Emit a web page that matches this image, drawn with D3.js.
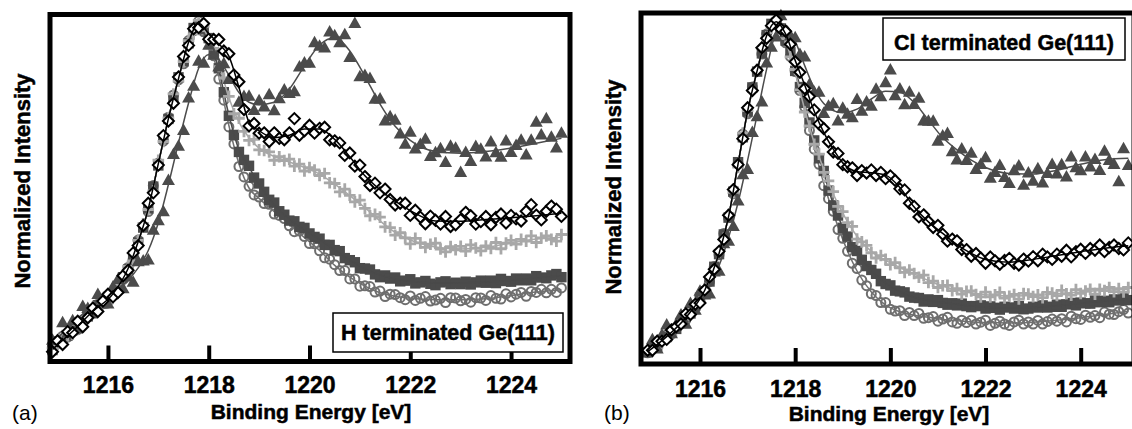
<!DOCTYPE html>
<html><head><meta charset="utf-8">
<script src="https://cdn.jsdelivr.net/npm/d3@7"></script>
<style>body{margin:0;background:#fff}svg{display:block}</style>
</head><body>
<svg id="c" width="1132" height="429"></svg>
<script>
// ---------- DATA (intensities in per-mille of normalized intensity) ----------
const energy = [
1214.9,1215.0,1215.1,1215.2,1215.3,1215.4,1215.5,1215.6,1215.7,1215.8,
1215.9,1216.0,1216.1,1216.2,1216.3,1216.4,1216.5,1216.6,1216.7,1216.8,
1216.9,1217.0,1217.1,1217.2,1217.3,1217.4,1217.5,1217.6,1217.7,1217.8,
1217.9,1218.0,1218.1,1218.2,1218.3,1218.4,1218.5,1218.6,1218.7,1218.8,
1218.9,1219.0,1219.1,1219.2,1219.3,1219.4,1219.5,1219.6,1219.7,1219.8,
1219.9,1220.0,1220.1,1220.2,1220.3,1220.4,1220.5,1220.6,1220.7,1220.8,
1220.9,1221.0,1221.1,1221.2,1221.3,1221.4,1221.5,1221.6,1221.7,1221.8,
1221.9,1222.0,1222.1,1222.2,1222.3,1222.4,1222.5,1222.6,1222.7,1222.8,
1222.9,1223.0,1223.1,1223.2,1223.3,1223.4,1223.5,1223.6,1223.7,1223.8,
1223.9,1224.0,1224.1,1224.2,1224.3,1224.4,1224.5,1224.6,1224.7,1224.8,
1224.9,1225.0];

const fitEnergy = [1214.9,1215.3,1215.7,1216.1,1216.4,1216.6,1216.8,1217.0,1217.2,1217.4,
1217.6,1217.8,1218.0,1218.2,1218.4,1218.6,1218.8,1219.0,1219.3,1219.6,
1219.9,1220.2,1220.5,1220.8,1221.1,1221.4,1221.7,1222.0,1222.5,1223.0,
1223.5,1224.0,1224.5,1225.0];

const tickLabels = [1216,1218,1220,1222,1224];

// Panel (a): H terminated
const aTriangles = [62,61,112,82,118,98,159,153,145,194,
174,166,215,237,210,244,229,288,290,293,
379,406,432,522,597,621,666,760,794,866,
860,912,883,849,859,813,824,748,764,765,
724,752,734,769,723,758,783,773,778,849,
861,860,919,909,904,950,939,919,942,877,
975,821,825,816,756,757,694,706,696,656,
627,661,613,626,641,591,602,614,574,621,
615,545,603,577,620,612,590,633,602,589,
636,603,623,638,596,638,690,653,700,647,
616,658];
const aDiamonds = [28,60,49,86,83,116,100,126,154,144,
174,194,186,199,247,263,313,334,392,456,
486,566,651,693,744,820,879,911,959,962,
974,929,928,928,895,887,826,806,726,679,
686,658,659,634,659,643,639,659,700,652,
665,681,658,672,675,639,636,630,594,601,
563,566,533,507,514,486,497,467,451,456,
456,421,436,416,397,419,407,396,418,389,
394,409,430,420,396,403,418,394,415,425,
399,421,411,405,433,452,422,408,433,448,
439,418];
const aPlus = [39,49,75,74,79,107,115,124,156,151,
175,169,196,223,235,274,290,349,397,438,
492,580,634,702,771,808,864,925,944,983,
966,926,901,850,817,764,714,701,663,637,
640,610,608,604,580,590,579,583,563,569,
549,559,552,536,542,515,513,489,497,479,
460,465,441,420,424,416,388,386,364,371,
356,339,355,342,329,338,341,324,316,331,
322,332,318,336,327,319,333,326,343,325,
341,349,338,352,347,362,343,356,362,352,
347,366];
const aSquares = [33,58,60,75,91,96,112,130,139,162,
167,186,194,211,243,265,305,343,386,441,
504,565,643,699,754,819,865,917,961,971,
957,932,890,845,776,708,653,604,581,564,
530,513,489,466,458,433,423,406,404,388,
385,369,359,354,336,336,321,318,298,292,
286,269,268,265,251,243,248,239,242,231,
233,237,225,228,232,224,220,228,231,223,
227,223,230,222,228,233,227,233,226,238,
232,230,239,234,239,234,246,242,240,248,
252,243];
const aCircles = [39,52,73,70,89,92,119,129,140,165,
168,173,200,223,236,271,294,350,389,432,
507,572,635,704,768,812,858,925,953,981,
950,928,881,814,753,676,627,562,532,505,
480,474,455,453,425,421,412,391,374,376,
360,340,339,319,299,295,279,262,262,238,
238,217,218,216,200,203,187,194,193,184,
178,189,176,182,187,174,177,182,170,184,
183,175,179,171,184,183,176,190,182,180,
195,186,194,199,188,202,199,208,198,208,
199,212];

const aFitTriangles = [50,112,160,200,235,270,320,400,510,630,745,845,885,870,825,775,747,740,747,785,852,912,933,895,822,742,678,637,605,600,605,615,629,643];
const aFitDiamonds = [35,87,145,195,268,345,440,570,700,815,920,975,945,915,880,790,690,665,645,652,670,670,640,590,535,495,462,435,405,404,409,414,420,427];
const aFitPlus = [35,87,145,195,268,345,440,570,700,815,920,975,930,860,760,690,645,615,591,575,559,540,511,478,443,405,372,350,330,324,329,342,353,358];
const aFitSquares = [35,87,145,195,268,345,440,570,700,815,920,975,930,840,710,610,560,510,452,410,380,352,322,292,267,249,238,231,226,227,229,234,241,247];
const aFitCircles = [35,87,145,195,268,345,440,570,700,815,920,975,920,820,680,570,500,470,432,395,357,320,277,243,217,198,188,182,178,178,181,190,200,207];

// Panel (b): Cl terminated
const bTriangles = [35,70,43,83,112,87,113,140,114,173,
154,208,197,200,263,265,343,350,392,465,
540,555,660,705,747,858,903,932,993,945,
935,930,882,875,797,775,775,714,735,742,
693,729,712,702,754,721,747,735,783,762,
802,838,765,784,739,775,740,758,693,692,
692,635,650,657,605,582,613,580,601,555,
569,588,530,546,566,532,515,551,565,510,
545,521,557,516,543,569,542,568,533,590,
560,551,590,562,583,552,607,580,569,520,
614,566];
const bDiamonds = [39,39,65,65,70,97,106,114,143,141,
170,174,211,248,270,321,355,424,497,568,
642,730,779,837,901,928,964,980,954,948,
911,861,831,785,762,724,684,671,633,604,
600,568,562,559,537,551,544,553,537,546,
528,536,523,499,496,458,449,419,425,406,
389,395,370,350,356,351,326,326,307,315,
302,287,305,294,284,295,301,287,282,299,
293,306,294,313,305,298,313,307,324,305,
320,327,315,329,324,339,320,332,339,329,
325,345];
const bPlus = [39,42,64,60,80,81,111,119,127,156,
163,177,215,249,271,318,358,426,489,561,
658,722,779,839,899,932,957,980,953,927,
875,839,781,718,678,626,598,546,522,491,
449,434,403,392,356,348,338,317,302,309,
298,283,289,274,261,268,258,247,253,232,
236,218,223,224,209,215,199,207,208,198,
191,205,191,197,204,188,193,198,185,201,
199,192,197,189,204,202,195,210,200,196,
212,201,208,213,199,213,209,218,206,215,
205,218];
const bSquares = [33,47,50,69,77,95,100,117,135,144,
166,189,207,235,277,313,369,417,491,575,
646,719,788,833,885,937,969,972,956,921,
888,835,789,744,688,637,586,550,494,452,
423,388,363,333,322,297,279,268,257,236,
228,224,209,207,204,192,189,188,178,184,
177,182,174,169,173,167,172,165,162,165,
167,158,164,160,155,163,161,158,165,156,
158,163,161,167,161,163,169,163,170,174,
167,175,173,172,181,176,180,176,184,181,
188,182];
const bCircles = [32,49,48,67,83,85,103,121,125,153,
162,192,209,235,278,311,372,417,485,571,
655,713,789,834,883,940,966,972,957,915,
876,833,779,732,665,612,569,508,471,435,
383,358,321,287,272,239,223,200,195,175,
175,156,151,152,138,147,138,144,130,132,
135,122,128,133,120,116,125,118,125,114,
119,125,110,116,122,114,110,120,125,114,
120,114,124,114,121,128,122,129,120,136,
129,127,139,133,138,132,148,142,141,149,
155,145];

const bFitTriangles = [45,92,142,200,280,360,460,580,710,840,945,965,920,850,785,742,722,716,726,755,777,774,745,695,645,610,581,560,543,541,552,569,582,586];
const bFitDiamonds = [35,78,132,210,315,420,570,720,835,935,975,940,865,795,720,660,612,573,548,545,538,503,447,405,372,340,315,298,290,298,309,320,330,337];
const bFitPlus = [35,78,132,210,315,420,570,720,835,935,975,920,830,725,630,555,485,430,364,321,295,275,256,238,222,210,202,197,194,195,200,205,210,213];
const bFitSquares = [35,78,132,210,315,420,570,720,835,935,975,925,840,740,635,545,455,390,318,266,230,206,190,181,175,170,165,162,160,161,166,173,179,185];
const bFitCircles = [35,78,132,210,315,420,570,720,835,935,975,920,830,725,615,515,430,355,265,205,168,149,139,133,127,123,120,118,117,119,125,132,141,150];

// ---------- STYLES / LAYOUT ----------
const FONT = "'Liberation Sans', Arial, Helvetica, sans-serif";
const lineColor = {circle:'#707070', square:'#4a4a4a', plus:'#a8a8a8', triangle:'#4c4c4c', diamond:'#000000'};

const layouts = [
  {left:50, right:570, top:14.5, bottom:361.5, domain:[1214.85,1225.17], tickPad:15, tickFont:23,
   yTitle:[30,181], xTitle:[311,419], tag:'(a)', tagPos:[12,420],
   box:{x:333,y:313,w:230,h:39,tx:448,ty:340,text:'H terminated Ge(111)'},
   series:[['circle',aCircles,aFitCircles],['square',aSquares,aFitSquares],['plus',aPlus,aFitPlus],
           ['triangle',aTriangles,aFitTriangles],['diamond',aDiamonds,aFitDiamonds]]},
  {left:641, right:1134, top:13, bottom:364, domain:[1214.76,1225.12], tickPad:17, tickFont:23,
   yTitle:[621,187], xTitle:[889,421], tag:'(b)', tagPos:[604,420],
   box:{x:883,y:18,w:242,h:42,tx:1004,ty:50,text:'Cl terminated Ge(111)'},
   series:[['circle',bCircles,bFitCircles],['square',bSquares,bFitSquares],['plus',bPlus,bFitPlus],
           ['triangle',bTriangles,bFitTriangles],['diamond',bDiamonds,bFitDiamonds]]}
];

const svg = d3.select('#c');

function drawMarkers(g, kind, pts) {
  const sel = g.selectAll(null).data(pts);
  if (kind === 'circle') {
    sel.join('circle').attr('cx',d=>d[0]).attr('cy',d=>d[1]).attr('r',4.5)
      .attr('fill','none').attr('stroke','#6e6e6e').attr('stroke-width',2);
  } else if (kind === 'square') {
    sel.join('rect').attr('x',d=>d[0]-5.2).attr('y',d=>d[1]-5.2).attr('width',10.4).attr('height',10.4)
      .attr('fill','#4b4b4b');
  } else if (kind === 'plus') {
    sel.join('path').attr('d',d=>`M${d[0]-5.8},${d[1]}H${d[0]+5.8}M${d[0]},${d[1]-5.8}V${d[1]+5.8}`)
      .attr('stroke','#a8a8a8').attr('stroke-width',2.8).attr('fill','none');
  } else if (kind === 'triangle') {
    sel.join('path').attr('d',d=>`M${d[0]},${d[1]-6.8}L${d[0]+6.5},${d[1]+4.7}L${d[0]-6.5},${d[1]+4.7}Z`)
      .attr('fill','#4b4b4b');
  } else {
    sel.join('path').attr('d',d=>`M${d[0]},${d[1]-5.5}L${d[0]+5.5},${d[1]}L${d[0]},${d[1]+5.5}L${d[0]-5.5},${d[1]}Z`)
      .attr('fill','#fff').attr('stroke','#000').attr('stroke-width',2);
  }
}

function boldText(sel, size) {
  return sel.attr('font-family',FONT).attr('font-weight','bold').attr('font-size',size)
    .attr('fill','#000').attr('stroke','#000').attr('stroke-width',0.5);
}

layouts.forEach(L => {
  const g = svg.append('g');
  const x = d3.scaleLinear().domain(L.domain).range([L.left, L.right]);
  const y = d3.scaleLinear().domain([0,1000]).range([L.bottom, L.top]);
  const line = d3.line().x((d,i)=>x(fitEnergy[i])).y(d=>y(d)).curve(d3.curveMonotoneX);

  L.series.forEach(([kind, vals, fit]) => {
    const pts = vals.map((v,i)=>[x(energy[i]), y(v)]);
    drawMarkers(g.append('g'), kind, pts);
    g.append('path').datum(fit).attr('d', line).attr('fill','none')
      .attr('stroke', lineColor[kind]).attr('stroke-width',1.5);
  });

  const ax = d3.axisBottom(x).tickValues(tickLabels).tickSize(-16).tickPadding(L.tickPad).tickFormat(d3.format('d'));
  const axg = g.append('g').attr('transform',`translate(0,${L.bottom})`).call(ax);
  axg.select('.domain').remove();
  axg.selectAll('.tick line').attr('stroke','#000').attr('stroke-width',4);
  boldText(axg.selectAll('.tick text'), L.tickFont);

  g.append('rect').attr('x',L.left).attr('y',L.top).attr('width',L.right-L.left).attr('height',L.bottom-L.top)
    .attr('fill','none').attr('stroke','#000').attr('stroke-width',5);

  const b = L.box;
  g.append('rect').attr('x',b.x).attr('y',b.y).attr('width',b.w).attr('height',b.h)
    .attr('fill','#fff').attr('stroke','#000').attr('stroke-width',1.5);
  boldText(g.append('text').attr('x',b.tx).attr('y',b.ty).attr('text-anchor','middle'), 21.5).text(b.text);

  boldText(g.append('text').attr('transform',`translate(${L.yTitle[0]},${L.yTitle[1]}) rotate(-90)`)
    .attr('text-anchor','middle'), 22).text('Normalized Intensity');
  boldText(g.append('text').attr('x',L.xTitle[0]).attr('y',L.xTitle[1]).attr('text-anchor','middle'), 21)
    .text('Binding Energy [eV]');
  g.append('text').attr('x',L.tagPos[0]).attr('y',L.tagPos[1])
    .attr('font-family',FONT).attr('font-size',21).attr('fill','#000').text(L.tag);
});
</script>
</body></html>
